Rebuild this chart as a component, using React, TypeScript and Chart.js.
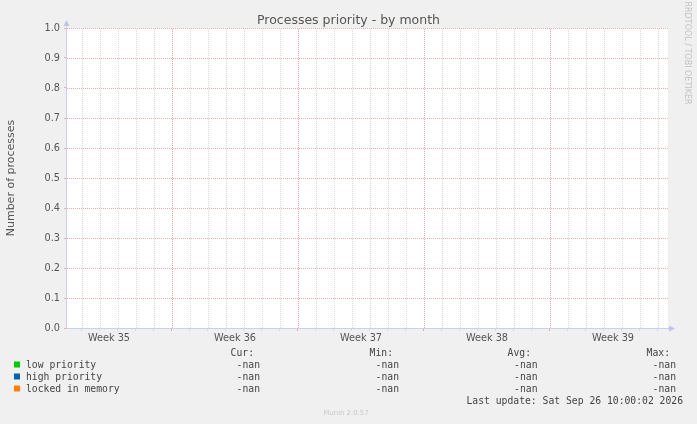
import React, { useEffect, useRef } from "react";
import { Chart, registerables } from "chart.js";

Chart.register(...registerables);

// ---- data ----
const TITLE = "Processes priority - by month";
const Y_AXIS_TITLE = "Number of processes";
const SERIES_NAMES = ["low priority", "high priority", "locked in memory"];
const SERIES_COLORS = ["#00CC00", "#0066B3", "#FF8000"];
const SERIES_VALUES: (number | null)[][] = [[], [], []];
const SERIES_CUR = ["-nan", "-nan", "-nan"];
const SERIES_MIN = ["-nan", "-nan", "-nan"];
const SERIES_AVG = ["-nan", "-nan", "-nan"];
const SERIES_MAX = ["-nan", "-nan", "-nan"];
const COLUMN_HEADERS = ["Cur:", "Min:", "Avg:", "Max:"];
const WEEK_LABELS = ["Week 35", "Week 36", "Week 37", "Week 38", "Week 39"];
const WEEK_CENTERS = [3.5, 10.5, 17.5, 24.5, 31.5]; // in days
const WEEK_BOUNDARIES = [7, 14, 21, 28];
const DAY_TICKS = [2, 3, 4, 5, 6, 7, 8, 9, 10, 11, 12, 13, 14, 15, 16, 17, 18, 19, 20, 21, 22, 23, 24, 25, 26, 27, 28, 29, 30, 31, 32, 33, 34];
const Y_TICKS = [0, 0.1, 0.2, 0.3, 0.4, 0.5, 0.6, 0.7, 0.8, 0.9, 1.0];
const X_MIN = 1.1667;
const X_MAX = 34.556;
const LAST_UPDATE = "Last update: Sat Sep 26 10:00:02 2026";
const WATERMARK = "RRDTOOL / TOBI OETIKER";
const FOOTER = "Munin 2.0.57";

const SANS = "'DejaVu Sans', sans-serif";
const MONO = "'DejaVu Sans Mono', monospace";

const MAJOR_GRID = "#EFAAAA";
const RED_GRID = "#F4A0A0";
const MINOR_GRID = "#DADADA";
const AXIS_COLOR = "#CACEF4";

const decorPlugin = {
  id: "muninDecor",
  beforeDraw(chart: any) {
    const { ctx, chartArea } = chart;
    ctx.save();
    ctx.fillStyle = "#F0F0F0";
    ctx.fillRect(0, 0, chart.width, chart.height);
    ctx.fillStyle = "#FFFFFF";
    ctx.fillRect(chartArea.left, chartArea.top, chartArea.right - chartArea.left, chartArea.bottom - chartArea.top);
    ctx.restore();
  },
  beforeDatasetsDraw(chart: any) {
    const { ctx, chartArea } = chart;
    const xs = chart.scales.x;
    const ys = chart.scales.y;
    ctx.save();
    ctx.lineWidth = 1;
    ctx.setLineDash([1, 1]);
    DAY_TICKS.forEach((d) => {
      const px = Math.round(xs.getPixelForValue(d)) + 0.5;
      ctx.strokeStyle = WEEK_BOUNDARIES.includes(d) ? RED_GRID : MINOR_GRID;
      ctx.beginPath();
      ctx.moveTo(px, chartArea.bottom);
      ctx.lineTo(px, chartArea.top);
      ctx.stroke();
    });
    ctx.strokeStyle = MAJOR_GRID;
    Y_TICKS.forEach((v) => {
      const py = Math.round(ys.getPixelForValue(v)) + 0.5;
      ctx.beginPath();
      ctx.moveTo(chartArea.left, py);
      ctx.lineTo(chartArea.right, py);
      ctx.stroke();
    });
    ctx.restore();
  },
  afterDraw(chart: any) {
    const { ctx, chartArea } = chart;
    const yScale = chart.scales.y;
    const xScale = chart.scales.x;
    const left = Math.round(xScale.getPixelForValue(X_MIN)) - 0.5;
    const bottom = Math.round(yScale.getPixelForValue(0)) + 0.5;
    ctx.save();
    ctx.strokeStyle = AXIS_COLOR;
    ctx.lineWidth = 1;
    ctx.beginPath();
    ctx.moveTo(left, bottom);
    ctx.lineTo(left, chartArea.top - 5);
    ctx.moveTo(left, bottom);
    ctx.lineTo(chartArea.right + 4, bottom);
    ctx.stroke();
    ctx.fillStyle = "#BCC2F2";
    ctx.beginPath();
    ctx.moveTo(left - 3, chartArea.top - 2);
    ctx.lineTo(left + 3, chartArea.top - 2);
    ctx.lineTo(left, chartArea.top - 8);
    ctx.closePath();
    ctx.fill();
    ctx.beginPath();
    ctx.moveTo(chartArea.right + 1, bottom - 3);
    ctx.lineTo(chartArea.right + 1, bottom + 3);
    ctx.lineTo(chartArea.right + 7, bottom);
    ctx.closePath();
    ctx.fill();

    ctx.fillStyle = "#555555";
    ctx.font = `12.5px ${SANS}`;
    ctx.textAlign = "center";
    ctx.textBaseline = "alphabetic";
    ctx.fillText(TITLE, 348.5, 24);

    ctx.save();
    ctx.translate(14, 178);
    ctx.rotate(-Math.PI / 2);
    ctx.font = `11px ${SANS}`;
    ctx.fillStyle = "#555555";
    ctx.textAlign = "center";
    ctx.textBaseline = "alphabetic";
    ctx.fillText(Y_AXIS_TITLE, 0, 0);
    ctx.restore();

    ctx.save();
    ctx.translate(687.5, 53);
    ctx.rotate(Math.PI / 2);
    ctx.font = `8px ${SANS}`;
    ctx.fillStyle = "#C2C2C2";
    ctx.textAlign = "center";
    ctx.textBaseline = "middle";
    ctx.fillText(WATERMARK, 0, 0);
    ctx.restore();

    ctx.font = `9.72px ${MONO}`;
    ctx.fillStyle = "#444444";
    ctx.textBaseline = "alphabetic";
    const colRight = [254, 393, 531, 670];
    const valRight = [260, 399, 537.5, 676];
    ctx.textAlign = "right";
    COLUMN_HEADERS.forEach((h, i) => ctx.fillText(h, colRight[i], 356));
    const rowBase = [367.5, 379.5, 391.5];
    const cols = [SERIES_CUR, SERIES_MIN, SERIES_AVG, SERIES_MAX];
    SERIES_NAMES.forEach((name, r) => {
      ctx.fillStyle = SERIES_COLORS[r];
      ctx.fillRect(14, rowBase[r] - 6, 6, 6);
      ctx.fillStyle = "#444444";
      ctx.textAlign = "left";
      ctx.fillText(name, 26, rowBase[r]);
      ctx.textAlign = "right";
      cols.forEach((c, ci) => ctx.fillText(c[r], valRight[ci], rowBase[r]));
    });
    ctx.textAlign = "right";
    ctx.fillText(LAST_UPDATE, 683, 404);

    ctx.font = `6.9px ${SANS}`;
    ctx.fillStyle = "#C8C8C8";
    ctx.textAlign = "center";
    ctx.textBaseline = "middle";
    ctx.fillText(FOOTER, 346, 413);
    ctx.restore();
  },
};

export default function App() {
  const ref = useRef<HTMLCanvasElement | null>(null);
  useEffect(() => {
    if (!ref.current) return;
    Chart.defaults.font.family = SANS;
    const isBoundary = (v: number) => WEEK_BOUNDARIES.includes(v);
    const isLabel = (v: number) => WEEK_CENTERS.includes(v);
    const xColor = (c: any) => {
      const v = c.tick?.value;
      if (isLabel(v)) return "rgba(0,0,0,0)";
      return isBoundary(v) ? RED_GRID : MINOR_GRID;
    };
    const chart = new Chart(ref.current, {
      type: "line",
      data: {
        datasets: SERIES_NAMES.map((name, i) => ({
          label: name,
          data: SERIES_VALUES[i] as any,
          borderColor: SERIES_COLORS[i],
          backgroundColor: SERIES_COLORS[i],
          pointRadius: 0,
        })),
      },
      options: {
        animation: false,
        responsive: false,
        devicePixelRatio: 1,
        layout: { padding: { top: 28, right: 29, bottom: 0, left: 0 } },
        plugins: { legend: { display: false }, title: { display: false }, tooltip: { enabled: false } },
        scales: {
          x: {
            type: "linear",
            min: X_MIN,
            max: X_MAX,
            afterBuildTicks: (scale: any) => {
              const vals = [...DAY_TICKS, ...WEEK_CENTERS].sort((a, b) => a - b);
              scale.ticks = vals.map((v) => ({ value: v }));
            },
            afterFit: (scale: any) => {
              scale.height = 96;
            },
            border: { display: false },
            grid: {
              drawOnChartArea: false,
              color: xColor,
              tickColor: xColor,
              tickLength: 3,
              lineWidth: 1,
            },
            ticks: {
              autoSkip: false,
              maxRotation: 0,
              minRotation: 0,
              padding: 2,
              color: "#555555",
              font: { size: 9.72, family: SANS },
              callback: (v: any) => {
                const idx = WEEK_CENTERS.indexOf(Number(v));
                return idx >= 0 ? WEEK_LABELS[idx] : "";
              },
            },
          },
          y: {
            type: "linear",
            min: 0,
            max: 1,
            afterBuildTicks: (scale: any) => {
              scale.ticks = Y_TICKS.map((v) => ({ value: v }));
            },
            afterFit: (scale: any) => {
              scale.width = 67;
            },
            border: { display: false },
            grid: {
              drawOnChartArea: false,
              color: MAJOR_GRID,
              tickColor: MAJOR_GRID,
              tickLength: 3,
              lineWidth: 1,
            },
            ticks: {
              padding: 4,
              color: "#555555",
              font: { size: 9.72, family: SANS },
              callback: (v: any) => Number(v).toFixed(1),
            },
          },
        },
      },
      plugins: [decorPlugin],
    } as any);
    return () => chart.destroy();
  }, []);
  return (
    <div style={{ position: "absolute", left: 0, top: 0, width: 697, height: 424, background: "#F0F0F0" }}>
      <canvas ref={ref} width={697} height={424} style={{ display: "block", width: 697, height: 424 }} />
    </div>
  );
}
